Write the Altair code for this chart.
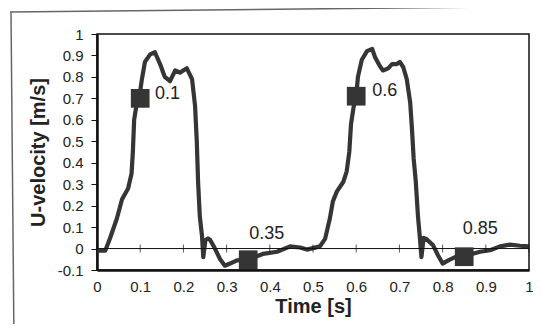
import altair as alt
import pandas as pd

# ---- data ----
T = [0, 0.019, 0.03, 0.046, 0.058, 0.072, 0.080, 0.083, 0.086, 0.093, 0.1, 0.104, 0.111,
     0.123, 0.134, 0.146, 0.157, 0.169, 0.181, 0.192, 0.208, 0.22, 0.227, 0.231, 0.234,
     0.238, 0.243, 0.246, 0.251, 0.257, 0.262, 0.273, 0.285, 0.296, 0.308, 0.324, 0.35,
     0.384, 0.417, 0.447, 0.47, 0.486, 0.516, 0.528, 0.539, 0.546, 0.555, 0.57, 0.578,
     0.584, 0.588, 0.594, 0.6, 0.604, 0.613, 0.625, 0.637, 0.644, 0.655, 0.662, 0.674,
     0.683, 0.694, 0.701, 0.709, 0.717, 0.725, 0.729, 0.733, 0.738, 0.743, 0.747, 0.751,
     0.756, 0.762, 0.778, 0.789, 0.8, 0.813, 0.829, 0.85, 0.887, 0.91, 0.933, 0.956,
     0.979, 1.0]
U = [-0.01, -0.01, 0.047, 0.14, 0.23, 0.28, 0.35, 0.45, 0.6, 0.69, 0.735, 0.79, 0.87,
     0.905, 0.915, 0.86, 0.80, 0.78, 0.83, 0.82, 0.84, 0.79, 0.665, 0.5, 0.31,
     0.15, 0.06, -0.04, 0.04, 0.047, 0.04, 0.0, -0.05, -0.08, -0.07, -0.055, -0.05,
     -0.025, -0.015, 0.01, 0.005, -0.005, 0.01, 0.045, 0.14, 0.22, 0.265, 0.31, 0.36,
     0.45, 0.58, 0.66, 0.71, 0.8, 0.88, 0.92, 0.93, 0.89, 0.85, 0.83, 0.84,
     0.86, 0.86, 0.87, 0.845, 0.79, 0.68, 0.56, 0.42, 0.31, 0.15, 0.06, -0.04,
     0.05, 0.045, 0.015, -0.03, -0.07, -0.055, -0.04, -0.035, -0.015, -0.008, 0.01, 0.018,
     0.013, 0.01]

MARK_T = [0.1, 0.35, 0.6, 0.85]
MARK_U = [0.70, -0.052, 0.71, -0.038]
MARK_TEXT = ["0.1", "0.35", "0.6", "0.85"]

SIDE_LBL_T = [0.134, 0.637]
SIDE_LBL_U = [0.72, 0.735]
SIDE_LBL_TEXT = ["0.1", "0.6"]
TOP_LBL_T = [0.393, 0.887]
TOP_LBL_U = [0.07, 0.093]
TOP_LBL_TEXT = ["0.35", "0.85"]

X_TICKS = [0, 0.1, 0.2, 0.3, 0.4, 0.5, 0.6, 0.7, 0.8, 0.9, 1]
Y_TICKS = [-0.1, 0, 0.1, 0.2, 0.3, 0.4, 0.5, 0.6, 0.7, 0.8, 0.9, 1]

FONT = "Liberation Sans"
INK = "#353535"
FMT = "datum.value < 0 ? '-' + format(-datum.value, '.1~f') : format(datum.value, '.1~f')"

curve = pd.DataFrame({"t": T, "u": U})
marks = pd.DataFrame({"t": MARK_T, "u": MARK_U, "label": MARK_TEXT})
side = pd.DataFrame({"t": SIDE_LBL_T, "u": SIDE_LBL_U, "label": SIDE_LBL_TEXT})
top = pd.DataFrame({"t": TOP_LBL_T, "u": TOP_LBL_U, "label": TOP_LBL_TEXT})
zero = pd.DataFrame({"u": [0]})
ticks = pd.DataFrame({"t": X_TICKS, "u": [0] * len(X_TICKS)})

xs = alt.Scale(domain=[0, 1], nice=False, zero=False)
ys = alt.Scale(domain=[-0.1, 1], nice=False, zero=False)

x_axis = alt.Axis(values=X_TICKS, ticks=False, labelPadding=9, grid=False,
                  labelOverlap=False, labelExpr=FMT, labelFlush=False,
                  domainColor="#111", domainWidth=2.5,
                  labelFont=FONT, labelFontSize=15, labelColor="#222",
                  title="Time [s]", titleFont=FONT, titleFontSize=20,
                  titleFontWeight="bold", titleColor="#222", titlePadding=2)
y_axis = alt.Axis(values=Y_TICKS, tickSize=6, tickColor="#111", tickWidth=1,
                  labelPadding=8, grid=False, labelOverlap=False, labelFlush=False,
                  labelExpr=FMT,
                  domainColor="#111", domainWidth=2.5,
                  labelFont=FONT, labelFontSize=15, labelColor="#222",
                  title="U-velocity [m/s]", titleFont=FONT, titleFontSize=20,
                  titleFontWeight="bold", titleColor="#222", titlePadding=9)


def X():
    return alt.X("t:Q", scale=xs, axis=x_axis)


def Y():
    return alt.Y("u:Q", scale=ys, axis=y_axis)


line = alt.Chart(curve).mark_line(color=INK, strokeWidth=4.2, strokeJoin="round").encode(
    x=X(), y=Y(), order="t:Q",
)

zero_line = alt.Chart(zero).mark_rule(color="#111", strokeWidth=1).encode(y=Y())
tick_marks = alt.Chart(ticks).mark_tick(color="#111", orient="vertical", size=8,
                                         thickness=1).encode(x=X(), y=Y())

squares = alt.Chart(marks).mark_square(color=INK, size=350, opacity=1).encode(x=X(), y=Y())

side_text = alt.Chart(side).mark_text(align="left", baseline="middle", font=FONT,
                                      fontSize=18, color="#222").encode(
    x=X(), y=Y(), text="label:N"
)
top_text = alt.Chart(top).mark_text(align="center", baseline="middle", font=FONT,
                                    fontSize=18, color="#222").encode(
    x=X(), y=Y(), text="label:N"
)

# decorative outer frame of the scanned figure
frame_top = alt.Chart(zero).mark_rule(color="#666", strokeWidth=1.5).encode(
    x=alt.value(-87), x2=alt.value(444), y=alt.value(-22), y2=alt.value(-27.5)
)
frame_left = alt.Chart(zero).mark_rule(color="#666", strokeWidth=1.5).encode(
    x=alt.value(-86), x2=alt.value(-83), y=alt.value(-22), y2=alt.value(310)
)

chart = alt.layer(
    line, frame_top, frame_left, zero_line, tick_marks, squares, side_text, top_text
).properties(
    width=432, height=236,
    autosize=alt.AutoSizeParams(type="none"),
    padding={"left": 89, "top": 26, "right": 4, "bottom": 54},
    background="white",
).configure_view(stroke="#111", strokeWidth=1.5).configure_axis(labelOverlap=False)

chart.save("out.html", embed_options={"renderer": "svg", "actions": False})
